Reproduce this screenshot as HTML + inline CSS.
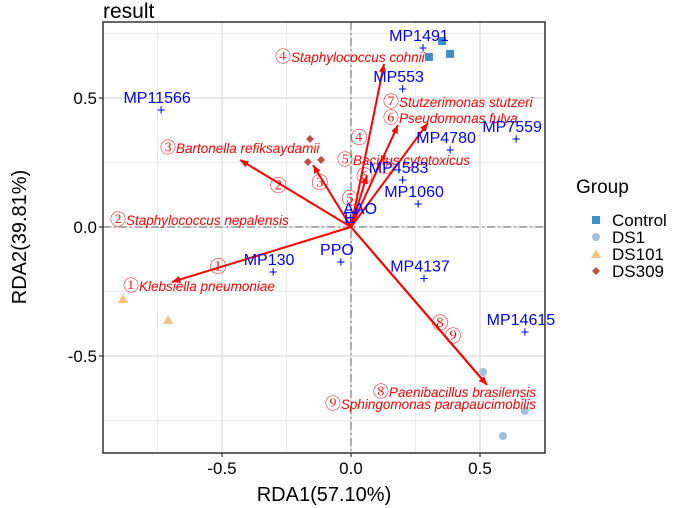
<!DOCTYPE html>
<html><head><meta charset="utf-8"><style>
body{margin:0;background:#fff;}
svg{display:block;font-family:"Liberation Sans","Noto Sans CJK SC",sans-serif;}
</style></head><body>
<svg id="chart" width="685" height="508" viewBox="0 0 685 508"></svg>
<script>
const ctrlX=[0.353,0.384,0.302], ctrlY=[0.721,0.671,0.659];
const ds1X=[0.512,0.674,0.589], ds1Y=[-0.562,-0.713,-0.81];
const ds101X=[-0.884,-0.709], ds101Y=[-0.279,-0.36];
const ds309X=[-0.159,-0.167,-0.116], ds309Y=[0.341,0.252,0.26];
const envNames=["MP1491","MP553","MP11566","MP4780","MP7559","MP4583","MP1060","AAO","E","PPO","MP130","MP4137","MP14615"];
const envX=[0.279,0.2,-0.736,0.384,0.64,0.2,0.26,0.02,-0.002,-0.039,-0.302,0.283,0.674];
const envY=[0.694,0.535,0.453,0.298,0.341,0.182,0.089,0.058,0.035,-0.136,-0.174,-0.2,-0.407];
const spNums=["①","②","③","④","⑤","⑥","⑦","⑧","⑨"];
const spNames=["Klebsiella pneumoniae","Staphylococcus nepalensis","Bartonella refiksaydamii","Staphylococcus cohnii","Bacillus cytotoxicus","Pseudomonas fulva","Stutzerimonas stutzeri","Paenibacillus brasilensis","Sphingomonas parapaucimobilis"];
const spX=[-0.694,-0.43,-0.147,0.128,0.062,0.182,0.298,0.527,0.527];
const spY=[-0.213,0.26,0.24,0.632,0.2,0.395,0.403,-0.612,-0.612];
const xTicks=[-0.5,0,0.5], yTicks=[-0.5,0,0.5];
const xTickLabels=["-0.5","0.0","0.5"], yTickLabels=["-0.5","0.0","0.5"];

const L=103,R=545,T=22,B=453,X0=351,Y0=227,S=258;
const sx=v=>X0+v*S, sy=v=>Y0-v*S;
const svg=document.getElementById('chart');
const NS="http://www.w3.org/2000/svg";
function mk(tag,at,txt,parent){const e=document.createElementNS(NS,tag);for(const k in at)e.setAttribute(k,at[k]);if(txt!==undefined)e.textContent=txt;(parent||svg).appendChild(e);return e;}

let e;
e=mk('rect',{x:L,y:T,width:R-L,height:B-T,fill:'#fff'});


[-0.75,-0.25,0.25,0.75].forEach(v=>{if(sx(v)>L&&sx(v)<R){e=mk('line',{x1:sx(v),x2:sx(v),y1:T,y2:B,stroke:'#ececec','stroke-width':1});}
 if(sy(v)>T&&sy(v)<B){e=mk('line',{x1:L,x2:R,y1:sy(v),y2:sy(v),stroke:'#ececec','stroke-width':1});}});
xTicks.forEach(v=>{e=mk('line',{x1:sx(v),x2:sx(v),y1:T,y2:B,stroke:'#e0e0e0','stroke-width':1.5});});
yTicks.forEach(v=>{e=mk('line',{x1:L,x2:R,y1:sy(v),y2:sy(v),stroke:'#e0e0e0','stroke-width':1.5});});
e=mk('line',{x1:sx(0),x2:sx(0),y1:T,y2:B,stroke:'#999','stroke-width':1.5,'stroke-dasharray':'8,3,2,3'});

e=mk('line',{x1:L,x2:R,y1:sy(0),y2:sy(0),stroke:'#999','stroke-width':1.5,'stroke-dasharray':'8,3,2,3'});


ctrlX.forEach((v,i)=>{e=mk('rect',{x:sx(v)-4,y:sy(ctrlY[i])-4,width:8,height:8,fill:'#3a8fc6'});});
ds1X.forEach((v,i)=>{e=mk('circle',{cx:sx(v),cy:sy(ds1Y[i]),r:4,fill:'#9cbfdb'});});
ds101X.forEach((v,i)=>{const x=sx(v),y=sy(ds101Y[i]);e=mk('polygon',{points:`${x},${y-5} ${x-5},${y+4} ${x+5},${y+4}`,fill:'#f8c27a'});});
ds309X.forEach((v,i)=>{const x=sx(v),y=sy(ds309Y[i]);e=mk('polygon',{points:`${x},${y-4} ${x+4},${y} ${x},${y+4} ${x-4},${y}`,fill:'#c0504d'});});

const labPos=[[123,291,'start'],[110,225,'start'],[160,153,'start'],[275,62,'start'],[337,165,'start'],[383,123,'start'],[383,107,'start'],[536,397,'end'],[536,409,'end']];
const numFrac=[0.72,0.62,0.72,0.55,0.55,0.5,0.58,0.6,0.68];
spX.forEach((v,i)=>{
 const x=sx(v),y=sy(spY[i]);
 e=mk('line',{x1:X0,y1:Y0,x2:x,y2:y,stroke:'#f00','stroke-width':2});
 
 const a=Math.atan2(y-Y0,x-X0),h=9;
 e=mk('polygon',{points:`${x},${y} ${x-h*Math.cos(a-0.4)},${y-h*Math.sin(a-0.4)} ${x-h*Math.cos(a+0.4)},${y-h*Math.sin(a+0.4)}`,fill:'#f00'});
 
 const f=numFrac[i];
 let nx=X0+(x-X0)*f, ny=Y0+(y-Y0)*f;
 if(i==7){nx=440;ny=323;} if(i==8){nx=453;ny=336;}
 if(i<7){nx+=(i<3?-4:-10);}
 e=mk('text',{x:nx,y:ny+6,fill:'#f00','font-size':17,'text-anchor':'middle','font-family':'"Noto Serif CJK SC","Noto Sans CJK SC",serif'},spNums[i]);
 
 const p=labPos[i];
 e=mk('text',{x:p[0],y:p[1],fill:'#f00','font-size':13.5,'font-style':'italic','text-anchor':p[2]});
 
 mk('tspan',{'font-size':16,'font-style':'normal','font-family':'"Noto Serif CJK SC",serif'},spNums[i],e);
 mk('tspan',{},spNames[i],e);
});

envX.forEach((v,i)=>{
 const x=sx(v),y=sy(envY[i]);
 e=mk('text',{x:x,y:y+5,fill:'#00f','font-size':15,'text-anchor':'middle'},'+');
 
 let lx=x-4, ly=y-7;
 if(envNames[i]=="AAO"){lx=x+4;ly=y+2;} if(envNames[i]=="E"){lx=x-1;ly=y+5;}
 e=mk('text',{x:lx,y:ly,fill:'#00f','font-size':16,'text-anchor':'middle'},envNames[i]);
 
});

e=mk('rect',{x:L,y:T,width:R-L,height:B-T,fill:'none',stroke:'#333','stroke-width':1.5});

xTicks.forEach((v,i)=>{mk('line',{x1:sx(v),x2:sx(v),y1:B,y2:B+4,stroke:'#333','stroke-width':1.2});
 e=mk('text',{x:sx(v),y:B+21,'font-size':17,'text-anchor':'middle',fill:'#000'},xTickLabels[i]);
 });
yTicks.forEach((v,i)=>{mk('line',{x1:L-4,x2:L,y1:sy(v),y2:sy(v),stroke:'#333','stroke-width':1.2});
 e=mk('text',{x:L-6,y:sy(v)+6,'font-size':17,'text-anchor':'end',fill:'#000'},yTickLabels[i]);
 });
e=mk('text',{x:324,y:501,'font-size':20,'text-anchor':'middle',fill:'#000'},'RDA1(57.10%)');

e=mk('text',{x:0,y:0,'font-size':20,'text-anchor':'middle',fill:'#000',transform:'translate(26,237) rotate(-90)'},'RDA2(39.81%)');

e=mk('text',{x:103,y:18,'font-size':21,fill:'#000'},'result');


e=mk('text',{x:576,y:193,'font-size':19,fill:'#000'},'Group');

const legNames=["Control","DS1","DS101","DS309"];
legNames.forEach((n,i)=>{
 const y=220+i*17,x=596;
 if(i==0)e=mk('rect',{x:x-4,y:y-4,width:8,height:8,fill:'#3a8fc6'});
 if(i==1)e=mk('circle',{cx:x,cy:y,r:4,fill:'#9cbfdb'});
 if(i==2)e=mk('polygon',{points:`${x},${y-5} ${x-5},${y+4} ${x+5},${y+4}`,fill:'#f8c27a'});
 if(i==3)e=mk('polygon',{points:`${x},${y-4} ${x+4},${y} ${x},${y+4} ${x-4},${y}`,fill:'#c0504d'});
 
 e=mk('text',{x:612,y:y+6,'font-size':17,fill:'#000'},n);
 
});
</script>
</body></html>
